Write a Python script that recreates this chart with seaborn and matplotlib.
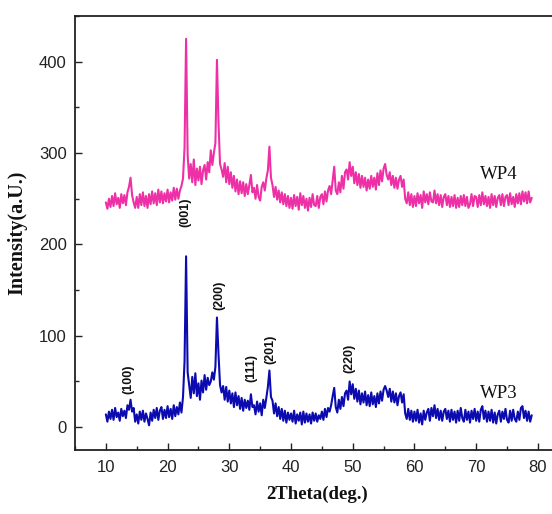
import numpy as np
import pandas as pd
import matplotlib
matplotlib.use("Agg")
import matplotlib.pyplot as plt
import seaborn as sns
from matplotlib.ticker import MultipleLocator

# 2-theta grid (deg.), 0.25 deg step from 10 to 79
two_theta = np.arange(10.0, 79.001, 0.25)

# Diffraction intensities, four readings per degree
wp3 = [
    14, 6, 17, 9,  19, 8, 21, 11,  16, 7, 20, 12,  18, 10, 24, 19,      # 10-13
    30, 17, 21, 6,  14, 4, 17, 8,  18, 6, 15, 9,  2, 16, 7, 19,         # 14-17
    10, 21, 8, 18,  22, 9, 19, 10,  23, 11, 20, 9,  24, 12, 22, 14,     # 18-21
    27, 16, 33, 72,  187, 60, 46, 32,  55, 37, 59, 34,  48, 30, 51, 38, # 22-25
    57, 41, 54, 46,  50, 60, 52, 66,  120, 80, 46, 38,  45, 30, 44, 28, # 26-29
    40, 26, 37, 22,  38, 24, 34, 20,  32, 18, 30, 21,  29, 19, 36, 22,  # 30-33
    24, 14, 28, 17,  26, 13, 30, 21,  32, 44, 62, 33,  29, 15, 26, 12,  # 34-37
    22, 9, 20, 7,  18, 5, 16, 8,  15, 6, 18, 4,  14, 7, 16, 3,          # 38-41
    17, 5, 15, 6,  14, 4, 16, 7,  15, 6, 13, 9,  17, 8, 20, 11,         # 42-45
    21, 17, 24, 34,  43, 22, 16, 30,  20, 33, 23, 37,  40, 30, 50, 36,  # 46-49
    47, 31, 42, 28,  40, 25, 37, 27,  39, 24, 35, 23,  38, 25, 34, 22,  # 50-53
    37, 26, 39, 29,  41, 45, 40, 33,  42, 28, 39, 27,  37, 24, 34, 38,  # 54-57
    27, 36, 15, 9,  20, 8, 18, 6,  17, 7, 19, 5,  15, 3, 18, 8,         # 58-61
    16, 20, 7, 21,  12, 24, 10, 20,  8, 18, 7, 17,  20, 9, 18, 6,       # 62-65
    19, 8, 17, 5,  18, 7, 21, 10,  6, 19, 8, 17,  5, 18, 9, 20,         # 66-69
    7, 17, 6, 19,  23, 9, 18, 6,  17, 7, 19, 5,  16, 4, 14, 18,         # 70-73
    6, 17, 9, 20,  8, 5, 18, 7,  19, 9, 6, 17,  8, 21, 23, 10,          # 74-77
    18, 7, 17, 6,  13,                                                   # 78-79
]

wp4 = [
    246, 239, 250, 241,  253, 242, 256, 244,  251, 240, 255, 245,  254, 243, 257, 263,  # 10-13
    273, 254, 246, 240,  252, 240, 255, 243,  257, 242, 253, 240,  255, 244, 258, 245,  # 14-17
    256, 243, 260, 246,  258, 245, 256, 247,  260, 246, 257, 248,  262, 249, 261, 250,  # 18-21
    259, 264, 272, 306,  425, 298, 272, 288,  268, 293, 265, 283,  270, 285, 266, 281,  # 22-25
    287, 271, 290, 279,  303, 287, 300, 311,  402, 333, 288, 282,  274, 289, 268, 285,  # 26-29
    266, 279, 262, 275,  258, 271, 255, 269,  256, 268, 253, 266,  255, 265, 276, 257,  # 30-33
    262, 250, 265, 252,  248, 263, 268, 259,  272, 281, 307, 273,  265, 252, 263, 249,  # 34-37
    259, 246, 257, 244,  255, 242, 253, 240,  251, 239, 254, 242,  252, 238, 256, 243,  # 38-41
    253, 240, 250, 237,  251, 241, 255, 243,  242, 253, 240, 252,  255, 244, 258, 247,  # 42-45
    259, 264, 255, 270,  285, 259, 255, 268,  257, 275, 261, 279,  282, 271, 290, 275,  # 46-49
    285, 267, 279, 265,  277, 262, 275, 263,  273, 259, 271, 261,  275, 263, 273, 260,  # 50-53
    278, 265, 281, 269,  283, 288, 276, 271,  279, 265, 275, 262,  273, 261, 271, 275,  # 54-57
    263, 271, 250, 245,  257, 243, 255, 241,  253, 242, 256, 245,  254, 240, 258, 246,  # 58-61
    255, 244, 257, 247,  246, 259, 245, 255,  243, 254, 241, 252,  255, 243, 253, 241,  # 62-65
    252, 242, 254, 240,  251, 241, 253, 243,  254, 242, 252, 240,  244, 255, 242, 253,  # 66-69
    252, 241, 254, 243,  257, 244, 253, 242,  252, 240, 255, 243,  253, 241, 251, 254,  # 70-73
    243, 255, 242, 252,  254, 243, 256, 244,  252, 241, 255, 245,  256, 244, 258, 247,  # 74-77
    257, 245, 258, 246,  251,                                                          # 78-79
]

# Miller indices of the indexed reflections of WP3 and where their labels sit
hkl_labels = ["(100)", "(001)", "(200)", "(111)", "(201)", "(220)"]
hkl_x = [13.6, 22.85, 28.4, 33.5, 36.7, 49.5]
hkl_y = [52, 235, 144, 65, 85, 75]

sample_names = ["WP4", "WP3"]
sample_label_x = [73.7, 73.7]
sample_label_y = [276, 37]

pink = "#ee30a6"
blue = "#0b0bb0"

df = pd.DataFrame({"two_theta": two_theta, "WP3": wp3, "WP4": wp4})

sns.set_theme(style="ticks")
plt.rcParams["font.family"] = ["Liberation Sans", "DejaVu Sans"]

fig = plt.figure(figsize=(5.52, 5.14), dpi=100)
W, H = 552, 514
ax = fig.add_axes([75 / W, 64 / H, 481.4 / W, 434 / H])

sns.lineplot(data=df, x="two_theta", y="WP4", color=pink, lw=1.5, ax=ax)
sns.lineplot(data=df, x="two_theta", y="WP3", color=blue, lw=1.5, ax=ax)

ax.set_xlim(5, 83)
ax.set_ylim(-25, 450)
ax.xaxis.set_minor_locator(MultipleLocator(5))
ax.yaxis.set_minor_locator(MultipleLocator(50))
ax.set_xticks(np.arange(10, 81, 10))
ax.set_yticks(np.arange(0, 401, 100))

ax.tick_params(which="major", direction="in", length=5, width=1.0, labelsize=12,
               colors="#222222")
ax.tick_params(which="minor", direction="in", length=2.8, width=1.0)
ax.tick_params(axis="x", which="major", pad=7)
ax.tick_params(axis="y", which="major", pad=6)

for side in ["left", "bottom", "top", "right"]:
    ax.spines[side].set_linewidth(1.3)
    ax.spines[side].set_color("#222222")

ax.set_xlabel("2Theta(deg.)", fontfamily="Liberation Serif", fontweight="bold",
              fontsize=13.5, color="#111111")
ax.set_ylabel("Intensity(a.U.)", fontfamily="Liberation Serif", fontweight="bold",
              fontsize=14.5, color="#111111")
ax.xaxis.set_label_coords((317 - 75) / 481.4, -0.083)
ax.yaxis.set_label_coords(-0.10, 0.5)

for lab, xx, yy in zip(hkl_labels, hkl_x, hkl_y):
    ax.text(xx, yy, lab, rotation=90, ha="center", va="center", fontsize=9,
            fontweight="bold", color="#111111")

for name, xx, yy in zip(sample_names, sample_label_x, sample_label_y):
    ax.text(xx, yy, name, ha="center", va="center", fontsize=13.5,
            fontfamily="Liberation Serif", color="#111111")

fig.savefig("out.png", dpi=100)
